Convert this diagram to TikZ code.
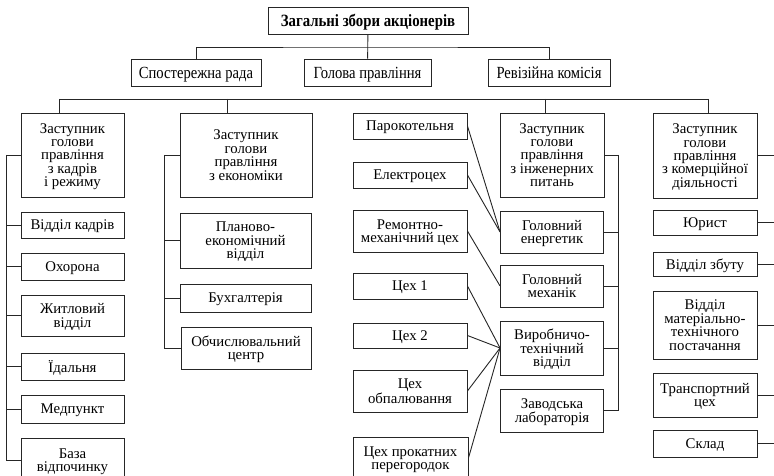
\documentclass[tikz,border=0pt]{standalone}
\usepackage{fontspec}
\setmainfont{Liberation Serif}
\newfontfamily\topfont{Liberation Serif}[FakeStretch=0.86]
\begin{document}
\begin{tikzpicture}[x=1pt,y=-1pt,
  box/.style={draw=black!85, line width=0.9pt, inner sep=0pt, align=center, text=black, text depth=0pt,
    font={\fontsize{14.8}{13.4}\selectfont}},
  topbox/.style={box, font={\topfont\fontsize{17}{17}\selectfont}},
  conn/.style={draw=black!85, line width=0.9pt}]
\useasboundingbox[fill=white] (0,0) rectangle (774,476);

% top levels
\node[topbox, minimum width=200pt, minimum height=27pt, font={\topfont\bfseries\fontsize{17.2}{17}\selectfont}] (title) at (368,20.5) {Загальні збори акціонерів};
\node[topbox, minimum width=130pt, minimum height=27pt] (sp) at (196,72.5) {Спостережна рада};
\node[topbox, minimum width=127pt, minimum height=27pt] (hol) at (367.5,72.5) {Голова правління};
\node[topbox, minimum width=122pt, minimum height=27pt] (rev) at (549,72.5) {Ревізійна комісія};

\coordinate (j) at (368,47);
\draw[conn] (title) -- (hol);
\draw[conn] (sp.north) |- (j) -| (rev.north);

% deputies
\node[box, minimum width=103pt, minimum height=84pt] (z1) at (72.5,155) {Заступник\\голови\\правління\\з кадрів\\і режиму};
\node[box, minimum width=132pt, minimum height=84pt] (z2) at (246,155) {Заступник\\голови\\правління\\з економіки};
\node[box, minimum width=104pt, minimum height=84pt] (z3) at (552,155) {Заступник\\голови\\правління\\з інженерних\\питань};
\node[box, minimum width=104pt, minimum height=85pt] (z4) at (705,155.5) {Заступник\\голови\\правління\\з комерційної\\діяльності};

\coordinate (r1) at (59,99);
\coordinate (r2) at (227,99);
\coordinate (r3) at (545,99);
\coordinate (r4) at (708,99);
\draw[conn] (r1) -- (r4);
\draw[conn] (r1) -- (r1 |- z1.north);
\draw[conn] (r2) -- (r2 |- z2.north);
\draw[conn] (r3) -- (r3 |- z3.north);
\draw[conn] (r4) -- (r4 |- z4.north);

% column 1
\node[box, minimum width=103pt, minimum height=26pt] (kad) at (72.5,225) {Відділ кадрів};
\node[box, minimum width=103pt, minimum height=27pt] (ohr) at (72.5,266.5) {Охорона};
\node[box, minimum width=103pt, minimum height=41pt] (zht) at (72.5,315.5) {Житловий\\відділ};
\node[box, minimum width=103pt, minimum height=27pt] (ida) at (72.5,366.5) {Їдальня};
\node[box, minimum width=103pt, minimum height=28pt] (med) at (72.5,409) {Медпункт};
\node[box, minimum width=103pt, minimum height=44pt] (baz) at (72.5,460) {База\\відпочинку};
\coordinate (b1) at (6,0);
\foreach \n in {z1,kad,ohr,zht,ida,med,baz} \draw[conn] (\n.west) -- (\n.west -| b1);
\draw[conn] (z1.west -| b1) -- (baz.west -| b1);

% column 2
\node[box, minimum width=131pt, minimum height=55pt] (pla) at (245.5,240.5) {Планово-\\економічний\\відділ};
\node[box, minimum width=131pt, minimum height=28pt] (buh) at (245.5,298) {Бухгалтерія};
\node[box, minimum width=130pt, minimum height=42pt] (obc) at (246,348) {Обчислювальний\\центр};
\coordinate (b2) at (164,0);
\foreach \n in {z2,pla,buh,obc} \draw[conn] (\n.west) -- (\n.west -| b2);
\draw[conn] (z2.west -| b2) -- (obc.west -| b2);

% column 3
\node[box, minimum width=114pt, minimum height=26pt] (par) at (410,126) {Парокотельня};
\node[box, minimum width=114pt, minimum height=26pt] (ele) at (410,175) {Електроцех};
\node[box, minimum width=114pt, minimum height=42pt] (rem) at (410,231) {Ремонтно-\\механічний цех};
\node[box, minimum width=114pt, minimum height=26pt] (ce1) at (410,286) {Цех 1};
\node[box, minimum width=114pt, minimum height=25pt] (ce2) at (410,335.5) {Цех 2};
\node[box, minimum width=114pt, minimum height=42pt] (obp) at (410,391) {Цех\\обпалювання};
\node[box, minimum width=115pt, minimum height=42pt] (pro) at (410.5,458) {Цех прокатних\\перегородок};

% column 4
\node[box, minimum width=103pt, minimum height=42pt] (ene) at (552,232) {Головний\\енергетик};
\node[box, minimum width=103pt, minimum height=42pt] (mex) at (552,286) {Головний\\механік};
\node[box, minimum width=103pt, minimum height=54pt] (vyr) at (552,348) {Виробничо-\\технічний\\відділ};
\node[box, minimum width=103pt, minimum height=43pt] (zav) at (552,410.5) {Заводська\\лабораторія};
\coordinate (b4) at (618,0);
\foreach \n in {z3,ene,mex,vyr,zav} \draw[conn] (\n.east) -- (\n.east -| b4);
\draw[conn] (z3.east -| b4) -- (zav.east -| b4);

\draw[conn] (par.east) -- (ene.west);
\draw[conn] (ele.east) -- (ene.west);
\draw[conn] (rem.east) -- (mex.west);
\draw[conn] (ce1.east) -- (vyr.west);
\draw[conn] (ce2.east) -- (vyr.west);
\draw[conn] (obp.east) -- (vyr.west);
\draw[conn] (pro.east) -- (vyr.west);

% column 5
\node[box, minimum width=104pt, minimum height=25pt] (yur) at (705,222.5) {Юрист};
\node[box, minimum width=104pt, minimum height=24pt] (zbu) at (705,264) {Відділ збуту};
\node[box, minimum width=104pt, minimum height=68pt] (mtp) at (705,325) {Відділ\\матеріально-\\технічного\\постачання};
\node[box, minimum width=104pt, minimum height=44pt] (tra) at (705,395) {Транспортний\\цех};
\node[box, minimum width=104pt, minimum height=27pt] (skl) at (705,443.5) {Склад};
\coordinate (b5) at (774,0);
\foreach \n in {z4,yur,zbu,mtp,tra,skl} \draw[conn] (\n.east) -- (\n.east -| b5);
\end{tikzpicture}
\end{document}
